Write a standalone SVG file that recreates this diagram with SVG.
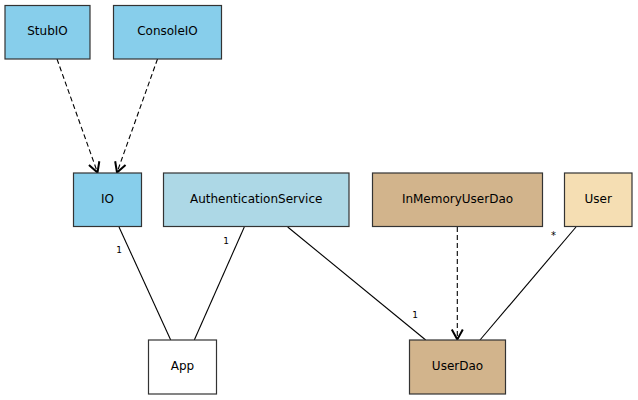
<svg xmlns="http://www.w3.org/2000/svg" width="638" height="400" viewBox="0 0 638 400">
<style>
.box{stroke:#333333;stroke-width:1.2}
.lbl{font-family:"DejaVu Sans",Verdana,sans-serif;font-size:12px;fill:#000;text-anchor:middle}
.mult{font-family:"DejaVu Sans",Verdana,sans-serif;font-size:9px;fill:#000;text-anchor:middle}
.assoc{stroke:#000;stroke-width:1.1;fill:none}
.dep{stroke:#000;stroke-width:1.1;fill:none;stroke-dasharray:5,3;marker-end:url(#open)}
</style>
<defs>
<marker id="open" markerUnits="userSpaceOnUse" markerWidth="14" markerHeight="14" viewBox="0 0 14 14" refX="12" refY="7" orient="auto">
<path d="M2,1.5 L12,7 L2,12.5" fill="none" stroke="#000" stroke-width="2"/>
</marker>
</defs>
<rect width="638" height="400" fill="#ffffff"/>
<g id="connectors">
<line class="dep" x1="57" y1="59" x2="97.5" y2="172.5"/>
<line class="dep" x1="157.5" y1="59" x2="117" y2="172.5"/>
<line class="dep" x1="457.3" y1="227" x2="457.3" y2="339.5"/>
<line class="assoc" x1="119" y1="227" x2="170.7" y2="340"/>
<line class="assoc" x1="244.3" y1="227" x2="194.3" y2="340"/>
<line class="assoc" x1="287.7" y1="227" x2="425.7" y2="340"/>
<line class="assoc" x1="576" y1="227" x2="480" y2="340"/>
<text class="mult" x="119" y="252.5">1</text>
<text class="mult" x="226" y="243.5">1</text>
<text class="mult" x="415" y="317.5">1</text>
<text class="mult" x="553.5" y="238.5" style="font-size:10px">*</text>
</g>
<g id="StubIO">
<rect class="box" x="5" y="5.5" width="85" height="53.5" fill="#87CEEB"/>
<text class="lbl" x="47.5" y="35">StubIO</text>
</g>
<g id="ConsoleIO">
<rect class="box" x="113.5" y="5.5" width="108" height="53.5" fill="#87CEEB"/>
<text class="lbl" x="167.5" y="35">ConsoleIO</text>
</g>
<g id="IO">
<rect class="box" x="73.5" y="173" width="68" height="53.5" fill="#87CEEB"/>
<text class="lbl" x="107.5" y="202.5">IO</text>
</g>
<g id="AuthenticationService">
<rect class="box" x="163.5" y="173" width="185.5" height="53.5" fill="#ADD8E6"/>
<text class="lbl" x="256.2" y="202.5">AuthenticationService</text>
</g>
<g id="InMemoryUserDao">
<rect class="box" x="372.5" y="173" width="170" height="53.5" fill="#D2B48C"/>
<text class="lbl" x="457.5" y="202.5">InMemoryUserDao</text>
</g>
<g id="User">
<rect class="box" x="564.5" y="173" width="67.5" height="53.5" fill="#F5DEB3"/>
<text class="lbl" x="598.2" y="202.5">User</text>
</g>
<g id="App">
<rect class="box" x="148.5" y="340" width="68" height="54" fill="#ffffff"/>
<text class="lbl" x="182.5" y="369.5">App</text>
</g>
<g id="UserDao">
<rect class="box" x="409.5" y="340" width="96" height="54" fill="#D2B48C"/>
<text class="lbl" x="457.5" y="369.5">UserDao</text>
</g>
</svg>
